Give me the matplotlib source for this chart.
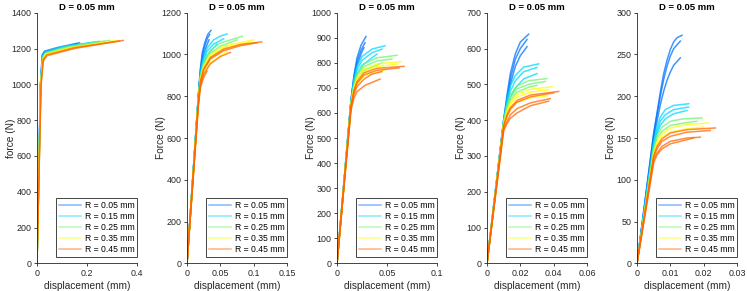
import numpy as np
import matplotlib
matplotlib.use("Agg")
import matplotlib.pyplot as plt

plt.rcParams['font.family'] = ['Liberation Sans', 'DejaVu Sans']

############################################################ DATA
# each list = curves of one R group, each curve = (displacement mm, force N) points
r_labels = ['R = 0.05 mm', 'R = 0.15 mm', 'R = 0.25 mm', 'R = 0.35 mm', 'R = 0.45 mm']
r_colors = [(0.0, 0.45, 1.0), (0.0, 0.85, 1.0), (0.45, 0.95, 0.45), (1.0, 1.0, 0.0), (1.0, 0.4, 0.0)]
ylabels = ['force (N)', 'Force (N)', 'Force (N)', 'Force (N)', 'Force (N)']

# panel 1
p1_r05 = [[(0, 0), (0.014, 1000), (0.021, 1165), (0.03, 1185), (0.08, 1205), (0.17, 1232)],
          [(0, 0), (0.014, 1000), (0.021, 1160), (0.03, 1180), (0.08, 1200), (0.16, 1226)]]
p1_r15 = [[(0, 0), (0.014, 1000), (0.022, 1160), (0.032, 1180), (0.1, 1210), (0.25, 1240)],
          [(0, 0), (0.014, 995), (0.022, 1150), (0.032, 1175), (0.1, 1205), (0.23, 1235)]]
p1_r25 = [[(0, 0), (0.015, 1000), (0.023, 1150), (0.035, 1175), (0.12, 1210), (0.29, 1245)],
          [(0, 0), (0.015, 990), (0.02, 1080), (0.022, 1110), (0.035, 1170), (0.12, 1205), (0.27, 1240)]]
p1_r35 = [[(0, 0), (0.015, 1000), (0.024, 1145), (0.035, 1170), (0.13, 1205), (0.32, 1245)],
          [(0, 0), (0.015, 990), (0.02, 1090), (0.024, 1135), (0.035, 1165), (0.13, 1200), (0.3, 1240)]]
p1_r45 = [[(0, 0), (0.016, 1000), (0.025, 1140), (0.04, 1165), (0.15, 1205), (0.345, 1245)],
          [(0, 0), (0.016, 990), (0.025, 1130), (0.04, 1160), (0.15, 1200), (0.33, 1242)]]

# panel 2
p2_r05 = [[(0, 0), (0.017, 800), (0.02, 930), (0.023, 1010), (0.027, 1060), (0.031, 1095), (0.036, 1115)],
          [(0, 0), (0.017, 800), (0.02, 920), (0.023, 995), (0.027, 1045), (0.031, 1080), (0.034, 1095)],
          [(0, 0), (0.017, 800), (0.02, 910), (0.024, 985), (0.028, 1030), (0.033, 1070)]]
p2_r15 = [[(0, 0), (0.017, 800), (0.02, 910), (0.024, 975), (0.03, 1030), (0.04, 1070), (0.05, 1088), (0.06, 1098)],
          [(0, 0), (0.017, 795), (0.02, 900), (0.024, 960), (0.03, 1015), (0.04, 1050), (0.055, 1075)],
          [(0, 0), (0.017, 790), (0.02, 890), (0.024, 945), (0.03, 995), (0.045, 1050)]]
p2_r25 = [[(0, 0), (0.017, 790), (0.02, 895), (0.025, 960), (0.035, 1020), (0.05, 1055), (0.083, 1087)],
          [(0, 0), (0.017, 785), (0.02, 885), (0.025, 950), (0.035, 1005), (0.05, 1040), (0.075, 1070)],
          [(0, 0), (0.017, 780), (0.02, 870), (0.025, 930), (0.035, 985), (0.06, 1040)]]
p2_r35 = [[(0, 0), (0.017, 780), (0.02, 880), (0.025, 945), (0.035, 1000), (0.055, 1040), (0.1, 1070)],
          [(0, 0), (0.017, 775), (0.02, 875), (0.025, 935), (0.035, 990), (0.055, 1030), (0.095, 1060)],
          [(0, 0), (0.017, 765), (0.02, 855), (0.025, 910), (0.035, 960), (0.06, 1015)]]
p2_r45 = [[(0, 0), (0.017, 770), (0.02, 870), (0.025, 930), (0.035, 985), (0.055, 1025), (0.08, 1048), (0.112, 1060)],
          [(0, 0), (0.017, 770), (0.02, 865), (0.025, 925), (0.035, 978), (0.055, 1018), (0.08, 1042), (0.105, 1056)],
          [(0, 0), (0.017, 760), (0.02, 850), (0.025, 905), (0.035, 955), (0.05, 990), (0.065, 1010)],
          [(0, 0), (0.017, 750), (0.02, 840), (0.025, 890), (0.03, 920)]]

# panel 3
p3_r05 = [[(0, 0), (0.014, 650), (0.017, 750), (0.02, 820), (0.024, 870), (0.029, 905)],
          [(0, 0), (0.014, 650), (0.017, 745), (0.02, 805), (0.024, 850), (0.028, 880)],
          [(0, 0), (0.014, 645), (0.017, 735), (0.02, 790), (0.025, 845), (0.027, 860)]]
p3_r15 = [[(0, 0), (0.014, 650), (0.017, 735), (0.02, 785), (0.025, 825), (0.035, 855), (0.048, 868)],
          [(0, 0), (0.014, 645), (0.017, 725), (0.02, 770), (0.025, 810), (0.035, 840), (0.045, 855)],
          [(0, 0), (0.014, 640), (0.017, 715), (0.02, 755), (0.025, 790), (0.04, 835)]]
p3_r25 = [[(0, 0), (0.014, 640), (0.017, 715), (0.02, 755), (0.027, 795), (0.04, 820), (0.06, 830)],
          [(0, 0), (0.014, 640), (0.017, 710), (0.02, 748), (0.027, 785), (0.04, 808), (0.055, 815)],
          [(0, 0), (0.014, 635), (0.017, 700), (0.02, 735), (0.027, 770), (0.045, 800)]]
p3_r35 = [[(0, 0), (0.014, 635), (0.017, 700), (0.02, 740), (0.027, 775), (0.04, 795), (0.064, 805)],
          [(0, 0), (0.014, 630), (0.017, 695), (0.02, 732), (0.027, 765), (0.04, 785), (0.06, 795)],
          [(0, 0), (0.014, 625), (0.017, 685), (0.02, 718), (0.027, 748), (0.05, 775)]]
p3_r45 = [[(0, 0), (0.014, 630), (0.017, 690), (0.02, 725), (0.027, 760), (0.04, 778), (0.067, 786)],
          [(0, 0), (0.014, 628), (0.017, 685), (0.02, 718), (0.027, 752), (0.04, 770), (0.062, 780)],
          [(0, 0), (0.014, 620), (0.017, 675), (0.02, 705), (0.027, 735), (0.035, 755), (0.045, 765)],
          [(0, 0), (0.014, 610), (0.017, 660), (0.02, 685), (0.028, 710), (0.043, 735)]]

# panel 4
p4_r05 = [[(0, 0), (0.01, 400), (0.012, 470), (0.014, 530), (0.017, 585), (0.02, 618), (0.025, 640)],
          [(0, 0), (0.01, 400), (0.012, 460), (0.014, 515), (0.017, 570), (0.02, 600), (0.024, 625)],
          [(0, 0), (0.01, 395), (0.012, 450), (0.014, 500), (0.017, 550), (0.02, 580), (0.024, 605)]]
p4_r15 = [[(0, 0), (0.01, 400), (0.012, 455), (0.014, 495), (0.017, 525), (0.022, 548), (0.031, 557)],
          [(0, 0), (0.01, 395), (0.012, 445), (0.014, 480), (0.017, 510), (0.022, 535), (0.03, 547)],
          [(0, 0), (0.01, 390), (0.012, 435), (0.014, 465), (0.017, 490), (0.022, 515), (0.03, 530)]]
p4_r25 = [[(0, 0), (0.01, 395), (0.012, 440), (0.014, 470), (0.018, 495), (0.025, 510), (0.036, 516)],
          [(0, 0), (0.01, 392), (0.012, 435), (0.014, 463), (0.018, 487), (0.025, 500), (0.035, 508)],
          [(0, 0), (0.01, 388), (0.012, 430), (0.014, 455), (0.018, 478), (0.025, 492), (0.03, 497)]]
p4_r35 = [[(0, 0), (0.01, 390), (0.012, 425), (0.014, 450), (0.018, 472), (0.026, 486), (0.039, 493)],
          [(0, 0), (0.01, 388), (0.012, 420), (0.014, 445), (0.018, 465), (0.026, 478), (0.037, 485)],
          [(0, 0), (0.01, 382), (0.012, 410), (0.014, 430), (0.018, 450), (0.026, 462), (0.036, 468)]]
p4_r45 = [[(0, 0), (0.01, 385), (0.012, 415), (0.014, 435), (0.018, 455), (0.026, 470), (0.043, 480)],
          [(0, 0), (0.01, 383), (0.012, 410), (0.014, 430), (0.018, 450), (0.026, 465), (0.04, 476)],
          [(0, 0), (0.01, 375), (0.012, 395), (0.014, 415), (0.018, 432), (0.026, 448), (0.038, 460)],
          [(0, 0), (0.01, 370), (0.012, 390), (0.014, 405), (0.018, 420), (0.026, 440), (0.037, 453)]]

# panel 5
p5_r05 = [[(0, 0), (0.005, 155), (0.006, 180), (0.007, 205), (0.008, 227), (0.009, 243), (0.01, 256), (0.011, 265), (0.012, 270), (0.0135, 273)],
          [(0, 0), (0.005, 155), (0.006, 178), (0.007, 200), (0.008, 220), (0.009, 236), (0.01, 248), (0.011, 257), (0.013, 266)],
          [(0, 0), (0.005, 150), (0.006, 170), (0.007, 190), (0.008, 206), (0.009, 219), (0.01, 229), (0.011, 237), (0.013, 246)]]
p5_r15 = [[(0, 0), (0.005, 145), (0.006, 163), (0.007, 175), (0.0085, 184), (0.011, 189), (0.0155, 191)],
          [(0, 0), (0.005, 143), (0.006, 158), (0.007, 170), (0.0085, 178), (0.011, 184), (0.0155, 187)],
          [(0, 0), (0.005, 140), (0.006, 155), (0.007, 165), (0.0085, 173), (0.011, 179), (0.015, 183)]]
p5_r25 = [[(0, 0), (0.005, 138), (0.006, 153), (0.0075, 163), (0.01, 170), (0.014, 173), (0.0195, 174)],
          [(0, 0), (0.005, 136), (0.006, 150), (0.0075, 158), (0.01, 165), (0.014, 168), (0.018, 170)]]
p5_r35 = [[(0, 0), (0.005, 132), (0.006, 145), (0.0075, 155), (0.01, 162), (0.015, 166), (0.0215, 168)],
          [(0, 0), (0.005, 130), (0.006, 142), (0.0075, 151), (0.01, 157), (0.015, 161), (0.02, 163)]]
p5_r45 = [[(0, 0), (0.005, 128), (0.006, 140), (0.0075, 149), (0.01, 156), (0.015, 160), (0.0235, 162)],
          [(0, 0), (0.005, 127), (0.006, 137), (0.0075, 146), (0.01, 152), (0.015, 157), (0.022, 159)],
          [(0, 0), (0.005, 124), (0.006, 132), (0.0075, 140), (0.01, 146), (0.015, 150), (0.019, 151)],
          [(0, 0), (0.005, 120), (0.006, 130), (0.0075, 137), (0.01, 143), (0.015, 148), (0.017, 150)]]

# axis limits / ticks per panel
xlims = [0.4, 0.15, 0.1, 0.06, 0.03]
ylims = [1400, 1200, 1000, 700, 300]
xticks = [[0, 0.2, 0.4], [0, 0.05, 0.1, 0.15], [0, 0.05, 0.1], [0, 0.02, 0.04, 0.06], [0, 0.01, 0.02, 0.03]]
xticklabels = [['0', '0.2', '0.4'], ['0', '0.05', '0.1', '0.15'], ['0', '0.05', '0.1'],
               ['0', '0.02', '0.04', '0.06'], ['0', '0.01', '0.02', '0.03']]
ysteps = [200, 200, 100, 100, 50]

panels = [[p1_r05, p1_r15, p1_r25, p1_r35, p1_r45],
          [p2_r05, p2_r15, p2_r25, p2_r35, p2_r45],
          [p3_r05, p3_r15, p3_r25, p3_r35, p3_r45],
          [p4_r05, p4_r15, p4_r25, p4_r35, p4_r45],
          [p5_r05, p5_r15, p5_r25, p5_r35, p5_r45]]

############################################################ PLOTS
W, H = 747, 291
fig = plt.figure(figsize=(W/100, H/100), dpi=100)
dark = '#262626'

for i in range(5):
  ax = fig.add_axes([(37 + 150*i)/W, (H - 263.3)/H, 100/W, 250.6/H])
  handles = []
  for g in range(5):
    for k, curve in enumerate(panels[i][g]):
      pts = np.array(curve)
      h, = ax.plot(pts[:, 0], pts[:, 1], color=r_colors[g], lw=1.1, alpha=0.75)
      if k == 0: handles.append(h)
  ax.set_xlim(0, xlims[i])
  ax.set_ylim(0, ylims[i])
  ax.set_xticks(xticks[i])
  ax.set_xticklabels(xticklabels[i])
  ax.set_yticks(np.arange(0, ylims[i] + 1, ysteps[i]))
  ax.spines['top'].set_visible(False)
  ax.spines['right'].set_visible(False)
  for s in ['left', 'bottom']:
    ax.spines[s].set_linewidth(0.6)
    ax.spines[s].set_color(dark)
  ax.tick_params(direction='out', length=2, width=0.6, colors=dark, labelsize=6.4, pad=2)
  ax.set_title('D = 0.05 mm', fontsize=6.8, fontweight='bold', pad=2)
  ax.set_xlabel('displacement (mm)', fontsize=7.3, color=dark)
  ax.set_ylabel(ylabels[i], fontsize=7.3, color=dark)
  ax.xaxis.set_label_coords(0.5, -0.07)
  ax.yaxis.set_label_coords(-0.21, 0.5)
  leg = ax.legend(handles, r_labels, loc='lower right', bbox_to_anchor=(1.0, 0.026), borderaxespad=0,
                  fontsize=6.2, handlelength=2.6, handletextpad=0.4, labelspacing=0.25,
                  borderpad=0.3, fancybox=False, framealpha=1)
  leg.get_frame().set_edgecolor(dark)
  leg.get_frame().set_linewidth(0.6)
  for l in leg.get_lines():
    l.set_alpha(0.5)

fig.savefig('out.png', dpi=100)
